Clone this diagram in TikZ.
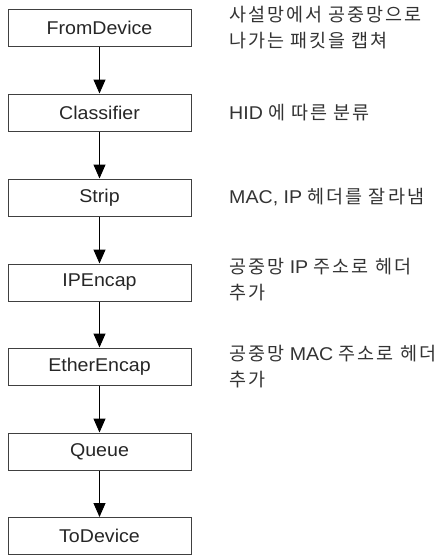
\documentclass[tikz,border=0pt]{standalone}
\usepackage{fontspec}
\setmainfont{Liberation Sans}[FakeStretch=1.06]
\newfontfamily\ko{Noto Sans CJK KR}[LetterSpace=11]
\usetikzlibrary{arrows.meta}
\begin{document}
\begin{tikzpicture}[x=1pt,y=-1pt,
  element/.style={draw=black!75, line width=1pt, minimum width=183pt,
    minimum height=37pt, inner sep=0pt,
    font=\fontsize{18.5}{22}\selectfont, text=black!85},
  flow/.style={draw=black, line width=1pt,
    -{Triangle[width=12pt,length=14pt]}},
  note/.style={anchor=west, align=left, inner sep=0pt,
    font=\fontsize{18.5}{26}\selectfont, text=black!80}]
\useasboundingbox (0,0) rectangle (444,557);

% Click element chain
\node[element] (from)  at (99.5,27.5)  {FromDevice};
\node[element] (cls)   at (99.5,112.5) {Classifier};
\node[element] (strip) at (99.5,197.5) {Strip};
\node[element] (ipenc) at (99.5,282.5) {IPEncap};
\node[element] (ethen) at (99.5,366.5) {EtherEncap};
\node[element] (queue) at (99.5,451.5) {Queue};
\node[element] (to)    at (99.5,536)   {ToDevice};

\draw[flow] (from)  -- (cls);
\draw[flow] (cls)   -- (strip);
\draw[flow] (strip) -- (ipenc);
\draw[flow] (ipenc) -- (ethen);
\draw[flow] (ethen) -- (queue);
\draw[flow] (queue) -- (to);

% Descriptions of each stage
\node[note] (n1) at (229,27.5)  {{\ko 사설망에서 공중망으로}\\{\ko 나가는 패킷을 캡쳐}};
\node[note] (n2) at (229,112.5) {HID {\ko 에 따른 분류}};
\node[note] (n3) at (229,197.5) {MAC, IP {\ko 헤더를 잘라냄}};
\node[note] (n4) at (229,280)   {{\ko 공중망} IP {\ko 주소로 헤더}\\{\ko 추가}};
\node[note] (n5) at (229,366.5) {{\ko 공중망} MAC {\ko 주소로 헤더}\\{\ko 추가}};
\end{tikzpicture}
\end{document}
